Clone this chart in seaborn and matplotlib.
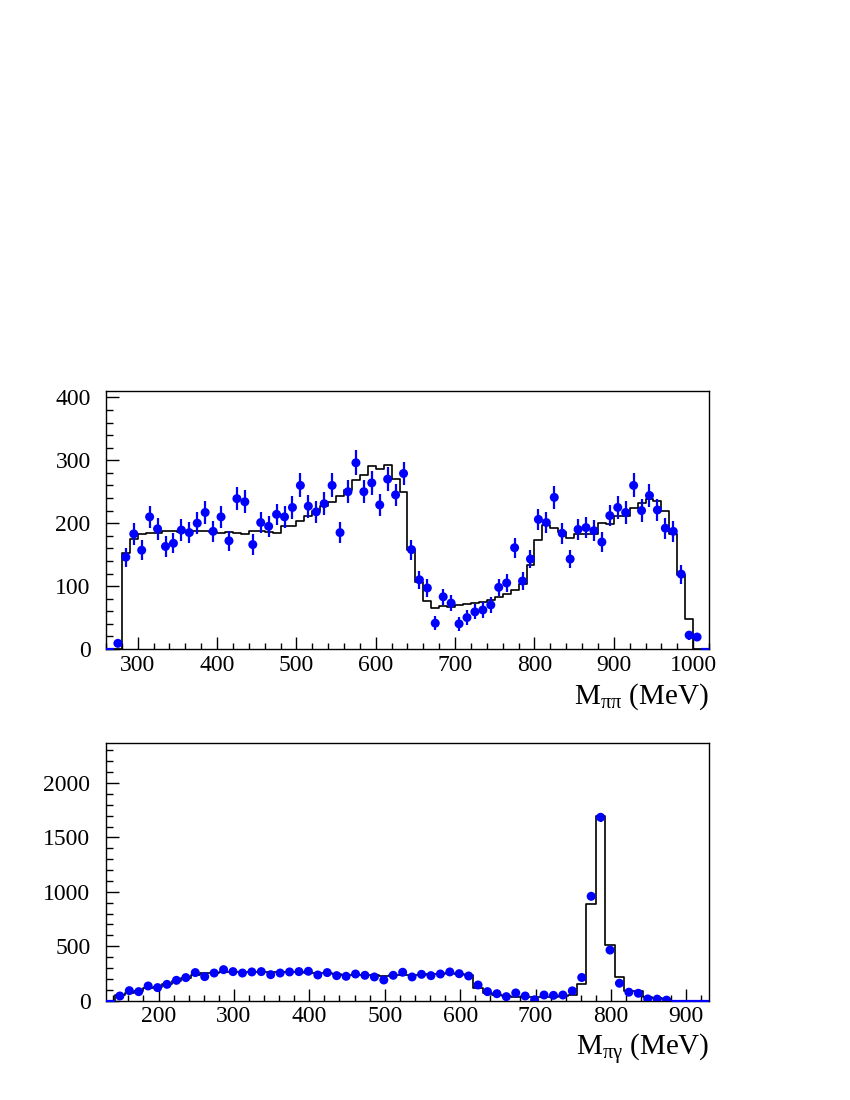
"""
Two stacked ROOT-style mass spectra: data points with error bars over a MC histogram.
Saves out.png (850x1100).
"""

import matplotlib

matplotlib.use("Agg")
import matplotlib.pyplot as plt
import matplotlib.ticker as mticker
import numpy as np
import pandas as pd
import seaborn as sns

# ---------------------------------------------------------------------------
# M(pi pi) spectrum: 10 MeV bins, 260 .. 1020 MeV
# ---------------------------------------------------------------------------
PIPI_LO, PIPI_HI, PIPI_W = 260, 1020, 10

pipi_data = [
    0, 9, 146, 183, 157, 210, 191, 163, 168, 189, 185, 200, 217, 187, 210, 172,
    239, 234, 166, 201, 195, 214, 210, 225, 260, 227, 218, 231, 260, 185, 250,
    296, 250, 264, 229, 270, 245, 279, 158, 110, 97, 41, 83, 73, 40, 50, 59, 62,
    70, 98, 105, 161, 108, 143, 206, 201, 241, 184, 143, 190, 193, 188, 170, 212,
    225, 217, 260, 220, 244, 221, 192, 187, 119, 22, 19, 0,
]
pipi_err = [
    0, 5, 15, 17, 16, 17, 17, 16, 16, 17, 17, 17, 18, 17, 17, 16,
    18, 18, 16, 17, 17, 17, 17, 18, 19, 18, 18, 18, 19, 17, 18,
    20, 18, 19, 18, 19, 18, 19, 16, 14, 14, 11, 13, 13, 11, 12, 12, 12,
    13, 14, 14, 16, 14, 15, 17, 17, 18, 17, 15, 17, 17, 17, 16, 17,
    18, 18, 19, 18, 18, 18, 17, 17, 15, 7, 7, 0,
]
pipi_mc = [
    0, 0, 153, 175, 183, 184, 185, 188, 187, 186, 187, 188, 187, 186, 185, 186,
    184, 182, 188, 187, 186, 184, 195, 195, 204, 211, 220, 227, 233, 243, 252,
    269, 276, 291, 286, 293, 271, 250, 158, 107, 77, 65, 69, 66, 70, 71, 73, 74,
    78, 82, 87, 94, 104, 133, 174, 197, 192, 186, 177, 183, 183, 183, 200, 198,
    211, 212, 224, 232, 239, 236, 219, 182, 118, 47, 0, 0,
]

# ---------------------------------------------------------------------------
# M(pi gamma) spectrum: 12.5 MeV bins, 130 .. 930 MeV
# ---------------------------------------------------------------------------
PIG_LO, PIG_HI, PIG_W = 130, 930, 12.5

pig_data = [
    0, 43, 92, 83, 135, 120, 150, 187, 212, 258, 221, 254, 285, 267, 254, 264,
    267, 239, 254, 264, 267, 270, 236, 258, 230, 224, 245, 233, 218, 190, 233,
    261, 218, 242, 230, 245, 264, 248, 227, 144, 83, 64, 37, 71, 43, 8, 52, 49,
    52, 90, 213, 959, 1685, 465, 160, 78, 68, 16, 14, 5, 0, 0, 0, 0,
]
pig_err = [
    0, 9, 11, 11, 13, 13, 14, 15, 16, 17, 16, 17, 18, 17, 17, 17,
    17, 16, 17, 17, 17, 17, 16, 17, 16, 16, 16, 16, 16, 15, 16,
    17, 16, 16, 16, 16, 17, 16, 16, 13, 11, 10, 9, 10, 9, 7, 10, 10,
    10, 11, 16, 32, 42, 23, 14, 11, 10, 6, 5, 4, 0, 0, 0, 0,
]
pig_mc = [
    0, 50, 75, 90, 115, 130, 150, 180, 210, 240, 250, 255, 265, 265, 265, 262,
    262, 260, 262, 262, 262, 258, 255, 250, 245, 240, 238, 235, 232, 230, 232,
    235, 238, 240, 242, 245, 250, 245, 235, 114, 68, 52, 40, 38, 36, 35, 35, 38,
    45, 55, 153, 886, 1697, 512, 215, 92, 85, 37, 22, 12, 0, 0, 0, 0,
]

BLUE = "#0000ff"


def make_frame(lo, hi, width, data, err, mc):
    edges = np.arange(lo, hi + width / 2, width)
    centers = edges[:-1] + width / 2
    return edges, pd.DataFrame({"m": centers, "n": data, "err": err, "mc": mc})


def draw_panel(ax, lo, hi, width, data, err, mc, ymax, xmaj, xmin, ymaj, ymin, label):
    edges, df = make_frame(lo, hi, width, data, err, mc)

    # MC expectation as a black step histogram
    sns.histplot(data=df, x="m", weights="mc", bins=[float(e) for e in edges],
                 element="step", fill=False, color="black", linewidth=1.2, ax=ax)

    filled = df[df["n"] > 0]
    empty = df[df["n"] <= 0]
    ax.errorbar(filled["m"], filled["n"], yerr=filled["err"], fmt="none",
                ecolor=BLUE, elinewidth=1.6, zorder=3)
    # empty bins: ROOT draws only the horizontal bin line at zero
    ax.errorbar(empty["m"], empty["n"], xerr=width / 2, fmt="none",
                ecolor=BLUE, elinewidth=1.6, zorder=3, clip_on=False)
    sns.scatterplot(data=filled, x="m", y="n", color=BLUE, s=42, edgecolor="none",
                    ax=ax, zorder=4, legend=False)

    ax.set_xlim(lo, hi)
    ax.set_ylim(0, ymax)
    ax.set_xlabel("")
    ax.set_ylabel("")
    ax.xaxis.set_major_locator(mticker.MultipleLocator(xmaj))
    ax.xaxis.set_minor_locator(mticker.MultipleLocator(xmin))
    ax.yaxis.set_major_locator(mticker.MultipleLocator(ymaj))
    ax.yaxis.set_minor_locator(mticker.MultipleLocator(ymin))
    ax.tick_params(which="both", direction="in", top=False, right=False,
                   labelsize=17, colors="black", labelcolor="black")
    ax.tick_params(axis="x", which="major", length=9, width=1.0, pad=4)
    ax.tick_params(axis="x", which="minor", length=4.5, width=1.0)
    ax.tick_params(axis="y", which="major", length=9, width=1.0, pad=11)
    ax.tick_params(axis="y", which="minor", length=5, width=1.0)
    for side in ax.spines.values():
        side.set_visible(True)
        side.set_linewidth(1.0)
        side.set_color("black")
    ax.grid(False)

    pos = ax.get_position()
    ax.figure.text(pos.x1, pos.y0 - 0.05, label, ha="right", va="baseline",
                   fontsize=21, color="black")


sns.set_theme(style="ticks")
plt.rcParams["font.family"] = ["Liberation Serif", "DejaVu Serif"]
plt.rcParams["mathtext.fontset"] = "custom"
plt.rcParams["mathtext.rm"] = "Liberation Serif"
plt.rcParams["mathtext.it"] = "Liberation Serif:italic"
plt.rcParams["text.color"] = "black"
plt.rcParams["xtick.color"] = "black"
plt.rcParams["ytick.color"] = "black"

fig = plt.figure(figsize=(8.5, 11), dpi=100)
fig.patch.set_facecolor("white")

ax_top = fig.add_axes([0.1247, 0.41, 0.7094, 0.2345])
ax_bot = fig.add_axes([0.1244, 0.0903, 0.7097, 0.234])
for a in (ax_top, ax_bot):
    a.set_facecolor("white")

draw_panel(ax_top, PIPI_LO, PIPI_HI, PIPI_W, pipi_data, pipi_err, pipi_mc,
           ymax=410, xmaj=100, xmin=20, ymaj=100, ymin=20,
           label=r"M$_{\mathrm{ππ}}$ (MeV)")
draw_panel(ax_bot, PIG_LO, PIG_HI, PIG_W, pig_data, pig_err, pig_mc,
           ymax=2365, xmaj=100, xmin=20, ymaj=500, ymin=100,
           label=r"M$_{\mathrm{πγ}}$ (MeV)")

fig.savefig("out.png", dpi=100, facecolor="white")
plt.close(fig)
